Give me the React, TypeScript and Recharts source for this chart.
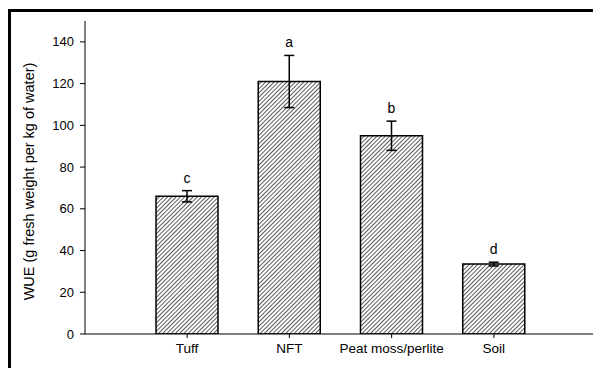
import { BarChart, Bar, XAxis, YAxis, ErrorBar, LabelList } from 'recharts';

const substrates = ['Tuff', 'NFT', 'Peat moss/perlite', 'Soil'];
const wue = [66, 121, 95, 33.5];
const wueErr = [2.7, 12.5, 7, 0.9];
const letters = ['c', 'a', 'b', 'd'];
const yTicks = [0, 20, 40, 60, 80, 100, 120, 140];

const data = substrates.map((name, i) => ({ name, wue: wue[i], err: wueErr[i], letter: letters[i] }));

const FONT = '"Liberation Sans", Arial, sans-serif';

// letter sits a bit above the top of the error bar
const renderLetter = (props: any) => {
  const { x, y, width, height, index } = props;
  const row = data[index];
  const pxPerUnit = height / row.wue;
  const top = y - row.err * pxPerUnit;
  return (
    <text x={x + width / 2} y={top - 8} textAnchor="middle" fontSize={14} fontFamily={FONT} fill="#000">
      {row.letter}
    </text>
  );
};

const renderYLabel = (props: any) => {
  const { viewBox } = props;
  const cx = viewBox.x + 26;
  const cy = viewBox.y + viewBox.height / 2 + 4;
  return (
    <text x={cx} y={cy} transform={`rotate(-90, ${cx}, ${cy})`} textAnchor="middle" fontSize={14.5} fontFamily={FONT} fill="#000">
      WUE (g fresh weight per kg of water)
    </text>
  );
};

export default function App() {
  return (
    <div style={{ position: 'relative', width: 593, height: 360, background: '#fff' }}>
      <div style={{ position: 'absolute', left: 0, top: 1, right: 0, bottom: -10, borderTop: '3px solid #000', borderLeft: '3px solid #000' }} />
      <div style={{ position: 'absolute', left: 0, top: 0 }}>
        <BarChart width={593} height={360} data={data} margin={{ top: 13, right: 5, bottom: 0, left: 0 }} barSize={62}>
          <defs>
            <pattern id="hatch" width={3} height={3} patternUnits="userSpaceOnUse" patternTransform="rotate(45)">
              <rect width={3} height={3} fill="#fff" />
              <line x1={0} y1={0} x2={0} y2={3} stroke="#000" strokeWidth={1.3} />
            </pattern>
          </defs>
          <XAxis
            dataKey="name"
            height={34}
            padding={{ left: 51, right: 51 }}
            tickSize={4}
            tickMargin={5}
            stroke="#000"
            tick={{ fontSize: 13.5, fontFamily: FONT, fill: '#000' }}
          />
          <XAxis xAxisId="top" dataKey="name" orientation="top" height={0} tick={false} tickLine={false} stroke="#000" />
          <YAxis
            domain={[0, 150]}
            ticks={yTicks}
            width={77}
            tickSize={5}
            tickMargin={6}
            stroke="#000"
            interval={0}
            allowDataOverflow
            tick={{ fontSize: 13, fontFamily: FONT, fill: '#000' }}
            label={{ content: renderYLabel }}
          />
          <YAxis yAxisId="right" orientation="right" width={0} domain={[0, 150]} tick={false} tickLine={false} stroke="#444" strokeWidth={1.5} />
          <Bar dataKey="wue" fill="url(#hatch)" stroke="#000" strokeWidth={1.5} isAnimationActive={false}>
            <ErrorBar dataKey="err" width={5} stroke="#000" strokeWidth={1.5} direction="y" />
            <LabelList dataKey="letter" content={renderLetter} />
          </Bar>
        </BarChart>
      </div>
    </div>
  );
}
